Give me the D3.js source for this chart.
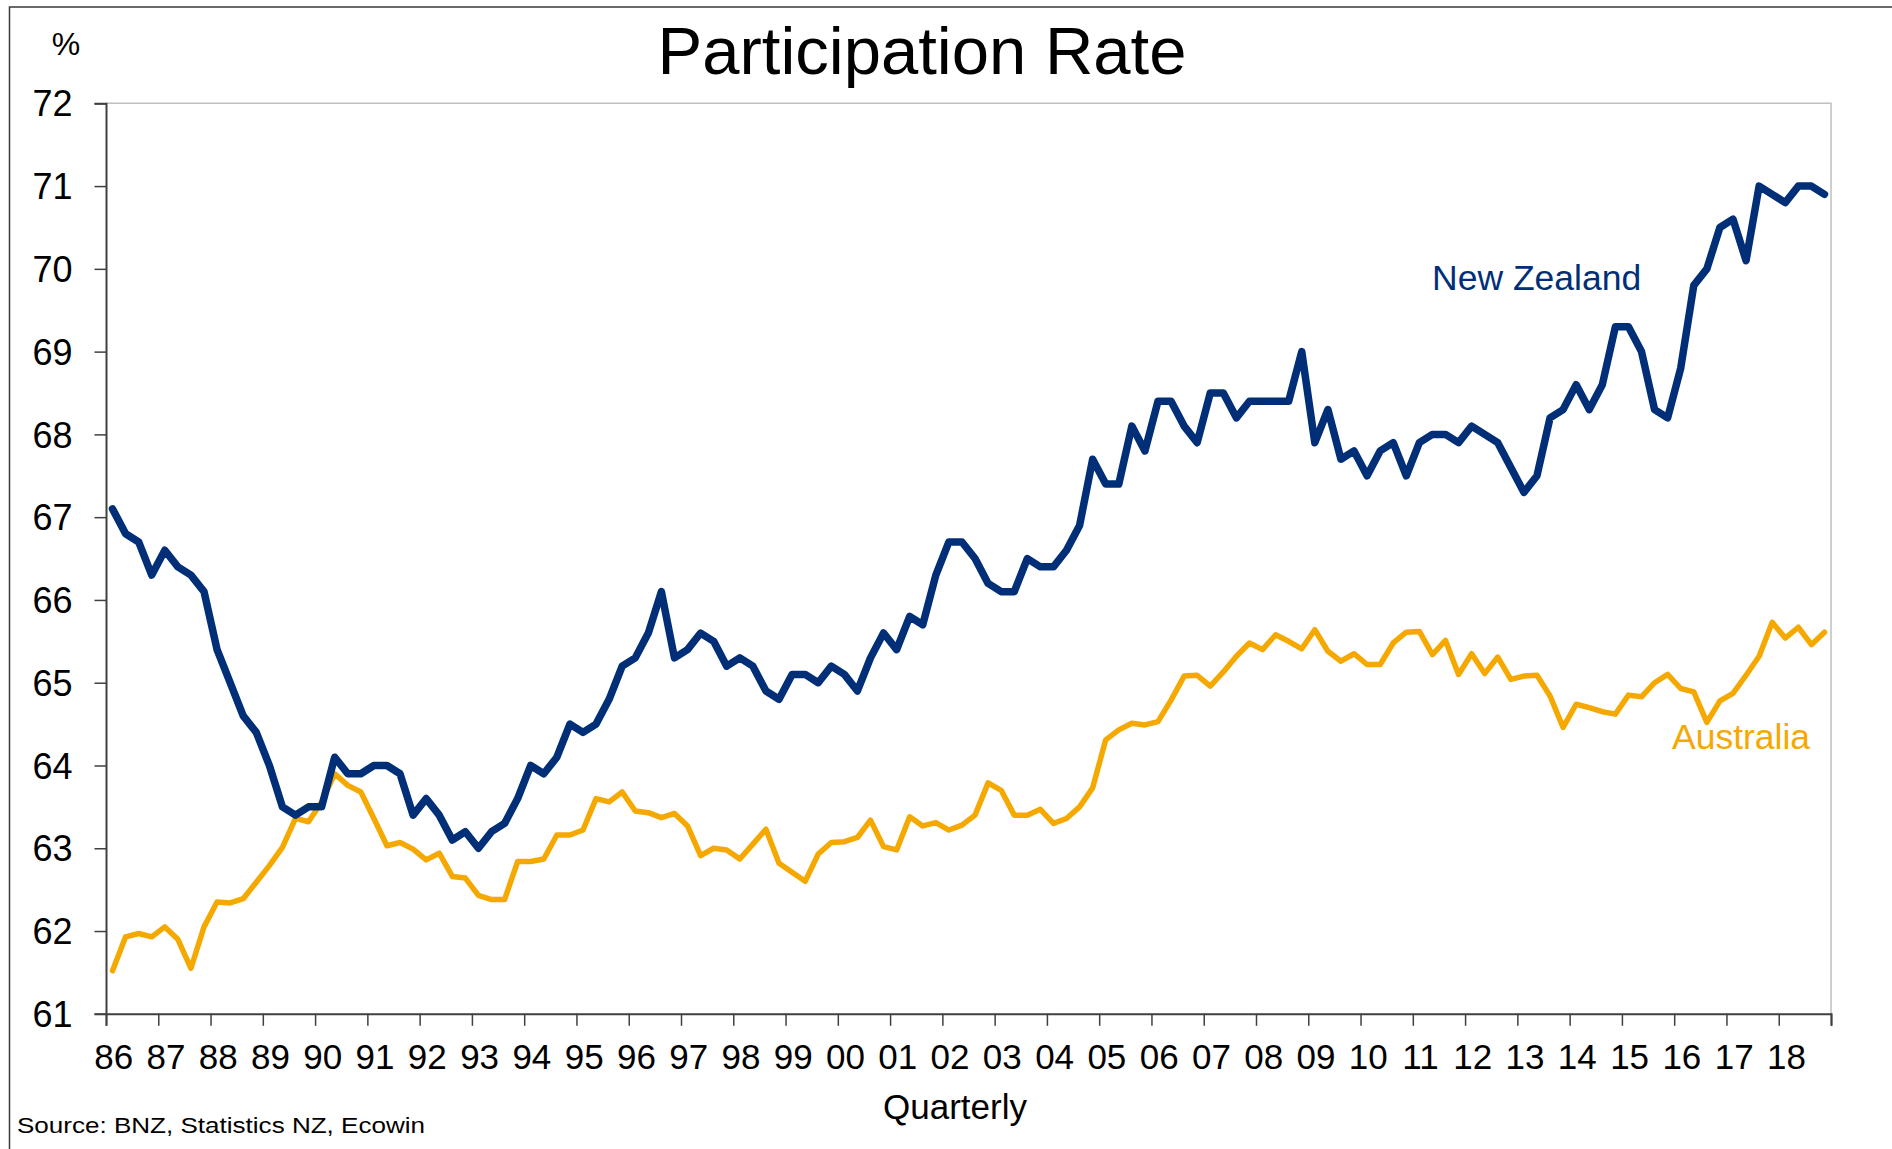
<!DOCTYPE html>
<html>
<head>
<meta charset="utf-8">
<script src="https://cdn.jsdelivr.net/npm/d3@7"></script>
<style>
  html, body { margin: 0; padding: 0; background: #ffffff; }
  svg { display: block; }
  text { font-family: "Liberation Sans", Arial, Helvetica, sans-serif; }
</style>
</head>
<body>
<svg id="chart" width="1892" height="1149"></svg>
<script>
// ---- Data ----
const yearLabels = ["86","87","88","89","90","91","92","93","94","95","96","97","98","99","00","01","02","03","04","05","06","07","08","09","10","11","12","13","14","15","16","17","18"];
const quarters = [];
yearLabels.forEach(y => { ["Q1","Q2","Q3","Q4"].forEach(q => quarters.push(y + q)); });

const newZealand = [
  67.1, 66.8, 66.7, 66.3, 66.6, 66.4, 66.3, 66.1, 65.4, 65.0, 64.6, 64.4, 64.0, 63.5, 63.4, 63.5,
  63.5, 64.1, 63.9, 63.9, 64.0, 64.0, 63.9, 63.4, 63.6, 63.4, 63.1, 63.2, 63.0, 63.2, 63.3, 63.6,
  64.0, 63.9, 64.1, 64.5, 64.4, 64.5, 64.8, 65.2,
  65.3, 65.6, 66.1, 65.3, 65.4, 65.6, 65.5, 65.2, 65.3, 65.2, 64.9, 64.8, 65.1, 65.1, 65.0, 65.2,
  65.1, 64.9, 65.3, 65.6, 65.4, 65.8, 65.7, 66.3, 66.7, 66.7,
  66.5, 66.2, 66.1, 66.1, 66.5, 66.4, 66.4, 66.6, 66.9, 67.7, 67.4, 67.4, 68.1, 67.8, 68.4, 68.4,
  68.1, 67.9, 68.5, 68.5, 68.2, 68.4, 68.4, 68.4, 68.4, 69.0, 67.9, 68.3, 67.7, 67.8, 67.5, 67.8,
  67.9, 67.5, 67.9, 68.0,
  68.0, 67.9, 68.1, 68.0, 67.9, 67.6, 67.3, 67.5, 68.2, 68.3, 68.6, 68.3, 68.6, 69.3, 69.3, 69.0,
  68.3, 68.2, 68.8, 69.8, 70.0, 70.5, 70.6, 70.1, 71.0, 70.9, 70.8, 71.0, 71.0, 70.9
];

const australia = [
  61.52, 61.93, 61.97, 61.93, 62.05, 61.90, 61.55, 62.05, 62.35, 62.34, 62.39, 62.59, 62.79, 63.01, 63.36, 63.32,
  63.56, 63.90, 63.76, 63.68, 63.36, 63.03, 63.07, 62.99, 62.86, 62.94, 62.66, 62.64, 62.43, 62.38, 62.38, 62.84,
  62.84, 62.87, 63.16, 63.16, 63.22, 63.60, 63.56, 63.68,
  63.45, 63.43, 63.37, 63.42, 63.27,
  62.91, 63.00, 62.98, 62.87, 63.05, 63.23, 62.82, 62.71, 62.60, 62.93, 63.07, 63.08, 63.13, 63.34, 63.02, 62.98,
  63.38, 63.27, 63.31, 63.22, 63.28, 63.40, 63.79, 63.70, 63.40, 63.40, 63.47, 63.30, 63.36, 63.50, 63.73, 64.31,
  64.43, 64.51, 64.49, 64.53, 64.79, 65.08, 65.09, 64.96, 65.13, 65.32, 65.48, 65.40, 65.58, 65.50, 65.41, 65.64,
  65.38, 65.26, 65.35, 65.22, 65.22, 65.48, 65.61, 65.62, 65.34,
  65.51, 65.10, 65.35, 65.11, 65.31, 65.04, 65.08, 65.09, 64.84, 64.46, 64.74, 64.70, 64.65, 64.62, 64.85, 64.83,
  65.00, 65.10, 64.93, 64.89, 64.52, 64.78, 64.87, 65.09, 65.32, 65.73, 65.54, 65.67, 65.46, 65.61
];

const yTicks = [61, 62, 63, 64, 65, 66, 67, 68, 69, 70, 71, 72];

// ---- Layout ----
const svg = d3.select("#chart");
const plot = { left: 106, right: 1831, top: 103.3, bottom: 1013.8 };

const x = d3.scaleLinear().domain([0, quarters.length]).range([plot.left, plot.right]);
const y = d3.scaleLinear().domain([61, 72]).range([plot.bottom, plot.top]);

// outer frame
svg.append("rect")
  .attr("x", 9.5).attr("y", 7)
  .attr("width", 1900).attr("height", 1160)
  .attr("fill", "none").attr("stroke", "#3a3a3a").attr("stroke-width", 1.5);

// plot area border (top & right light gray)
svg.append("path")
  .attr("d", `M${plot.left},${plot.top}H${plot.right}V${plot.bottom}`)
  .attr("fill", "none").attr("stroke", "#bfbfbf").attr("stroke-width", 1.5);

// Title
svg.append("text")
  .attr("x", 922).attr("y", 73.5)
  .attr("text-anchor", "middle")
  .attr("font-size", 67)
  .attr("fill", "#000")
  .text("Participation Rate");

// % unit
svg.append("text")
  .attr("x", 66).attr("y", 55)
  .attr("text-anchor", "middle")
  .attr("font-size", 32)
  .attr("fill", "#000")
  .text("%");

// Y axis
const yAxis = d3.axisLeft(y).tickValues(yTicks).tickSize(11.5).tickPadding(22).tickFormat(d3.format("d"));
const gy = svg.append("g").attr("transform", `translate(${plot.left},0)`).call(yAxis);
gy.select(".domain").attr("stroke", "#404040").attr("stroke-width", 2);
gy.selectAll(".tick line").attr("stroke", "#404040").attr("stroke-width", 1.5);
gy.selectAll(".tick text")
  .attr("font-size", 36)
  .attr("fill", "#000")
  .attr("font-family", '"Liberation Sans", Arial, sans-serif')
  .attr("dy", "0.35em");

// X axis tick marks (every 4 quarters at category boundaries)
const tickIdx = d3.range(0, quarters.length + 1, 4);
const xTickAxis = d3.axisBottom(x).tickValues(tickIdx).tickSize(12).tickFormat("");
const gx = svg.append("g").attr("transform", `translate(0,${plot.bottom})`).call(xTickAxis);
gx.select(".domain").attr("stroke", "#404040").attr("stroke-width", 2);
gx.selectAll(".tick line").attr("stroke", "#404040").attr("stroke-width", 1.5);

// X axis labels, centred on first quarter of each year
const labelAxis = d3.axisBottom(x)
  .tickValues(yearLabels.map((d, k) => k * 4 + 0.55))
  .tickSize(0).tickPadding(30)
  .tickFormat((d, k) => yearLabels[k]);
const gl = svg.append("g").attr("transform", `translate(0,${plot.bottom})`).call(labelAxis);
gl.select(".domain").remove();
gl.selectAll(".tick text")
  .attr("font-size", 35)
  .attr("fill", "#000")
  .attr("font-family", '"Liberation Sans", Arial, sans-serif');

// Axis title
svg.append("text")
  .attr("x", 955).attr("y", 1119)
  .attr("text-anchor", "middle")
  .attr("font-size", 35)
  .attr("fill", "#000")
  .text("Quarterly");

// Source
svg.append("text")
  .attr("x", 17).attr("y", 1132.5)
  .attr("font-size", 22.5)
  .attr("textLength", 408)
  .attr("lengthAdjust", "spacingAndGlyphs")
  .attr("fill", "#000")
  .text("Source: BNZ, Statistics NZ, Ecowin");

// Lines
const line = d3.line()
  .x((d, i) => x(i + 0.5))
  .y(d => y(d))
  .curve(d3.curveLinear);

svg.append("path")
  .datum(australia)
  .attr("d", line)
  .attr("fill", "none")
  .attr("stroke", "#F5A900")
  .attr("stroke-width", 5.5)
  .attr("stroke-linejoin", "round")
  .attr("stroke-linecap", "round");

svg.append("path")
  .datum(newZealand)
  .attr("d", line)
  .attr("fill", "none")
  .attr("stroke", "#002F78")
  .attr("stroke-width", 7.5)
  .attr("stroke-linejoin", "round")
  .attr("stroke-linecap", "round");

// Series labels
svg.append("text")
  .attr("x", 1432).attr("y", 289.5)
  .attr("font-size", 35.5)
  .attr("fill", "#002F78")
  .text("New Zealand");

svg.append("text")
  .attr("x", 1672).attr("y", 749)
  .attr("font-size", 35.5)
  .attr("fill", "#F5A900")
  .text("Australia");
</script>
</body>
</html>
